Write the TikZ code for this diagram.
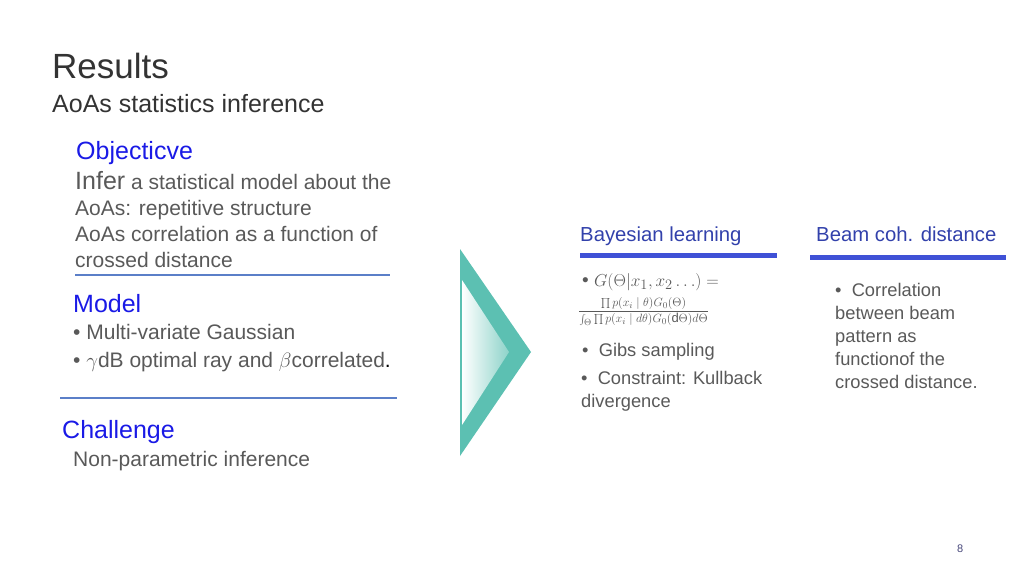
\documentclass[tikz,border=0pt]{standalone}
\usepackage{fontspec}
\setmainfont{Liberation Sans}
\usetikzlibrary{shadings}
\definecolor{txt}{HTML}{595959}
\definecolor{hblue}{HTML}{1A1AE6}
\definecolor{lineb}{HTML}{5B7FC8}
\definecolor{barb}{HTML}{3F51D6}
\definecolor{teal}{HTML}{5CC0B2}
\tikzset{
  tx/.style={anchor=north west,inner sep=0pt,text=txt,font=\fontsize{21}{26}\selectfont,align=left},
  hd/.style={anchor=north west,inner sep=0pt,text=hblue,font=\fontsize{25}{28}\selectfont},
  rt/.style={anchor=north west,inner sep=0pt,text=txt,font=\fontsize{18.3}{23}\selectfont,align=left},
  rh/.style={anchor=north west,inner sep=0pt,text=barb!80!black,font=\fontsize{20.3}{24}\selectfont},
  sep/.style={draw=lineb,line width=2.2pt},
  bar/.style={draw=barb,line width=5pt}
}
\begin{document}
\begin{tikzpicture}[x=1pt,y=-1pt]
\useasboundingbox (0,0) rectangle (1024,576);
\node[anchor=north west,inner sep=0pt,font=\fontsize{35}{40}\selectfont,text=black!80] (title) at (52,53) {Results};
\node[anchor=north west,inner sep=0pt,font=\fontsize{25}{28}\selectfont,text=black!80] (sub) at (52,94) {AoAs statistics inference};
\node[hd] (obj) at (76,141) {Objecticve};
\node[tx] (objt) at (75,171) {{\fontsize{25}{26}\selectfont Infer} a statistical model about the\\AoAs: repetitive structure\\AoAs correlation as a function of\\crossed distance};
\draw[sep] (75,275) -- (390,275);
\node[hd] (mod) at (73,294) {Model};
\node[tx] (modt) at (73,324) {\textbullet\ Multi-variate Gaussian\\[2pt]\textbullet\ $\gamma$dB optimal ray and $\beta$correlated{\color{black}.}};
\draw[sep] (60,398) -- (397,398);
\node[hd] (ch) at (62,420) {Challenge};
\node[tx] (cht) at (73,451) {Non-parametric inference};
% arrow
\fill[teal] (460,249) -- (531,352) -- (460,456) -- cycle;
\shade[left color=white,right color=teal!70] (462,280) -- (509,352) -- (462,425) -- cycle;
% right
\node[rh] (bl) at (580,227) {Bayesian learning};
\draw[bar] (580,255) -- (777,255);
\node[rh] (bc) at (816,227) {Beam coh. distance};
\draw[bar] (810,257) -- (1006,257);
\node[anchor=north west,inner sep=0pt,text=txt,font=\fontsize{19}{20}\selectfont] (f1) at (582,273) {\textbullet\ $G(\Theta|x_1,x_2\ldots)=$};
\node[anchor=north west,inner sep=0pt,text=txt] (f2) at (578,297) {\fontsize{13}{15}\selectfont$\displaystyle\frac{\prod p(x_i\mid\theta)G_0(\Theta)}{\int_\Theta\prod p(x_i\mid d\theta)G_0(\mathrm{d}\Theta)d\Theta}$};
\node[rt] (gb) at (582,343) {\textbullet\ \ Gibs sampling};
\node[rt] (kl) at (581,371) {\textbullet\ \ Constraint: Kullback\\divergence};
\node[rt] (bt) at (835,283) {\textbullet\ \ Correlation\\between beam\\pattern as\\functionof the\\crossed distance.};
\node[anchor=north west,inner sep=0pt,text=txt!80!blue,font=\fontsize{11}{13}\selectfont] (pg) at (957,545) {8};
\end{tikzpicture}
\end{document}
